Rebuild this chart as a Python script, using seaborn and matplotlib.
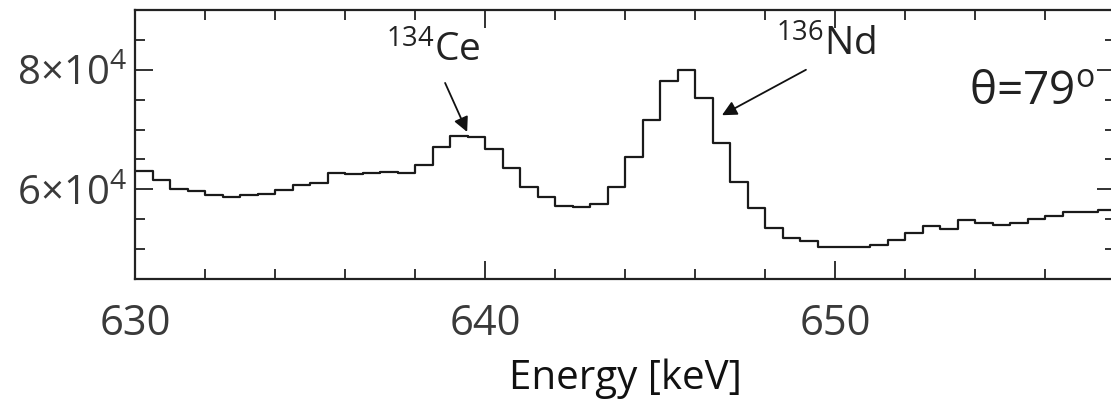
import numpy as np
import pandas as pd
import seaborn as sns
import matplotlib
matplotlib.use("Agg")
import matplotlib.pyplot as plt
from matplotlib.ticker import MultipleLocator, FuncFormatter, FixedLocator

# ---------------- data ----------------
energy_start = 630.0      # keV, left edge of first bin
bin_width = 0.5           # keV
counts = [
    63000, 61500, 60000, 59650, 59000, 58700, 59000, 59300, 59950, 60800,
    61050, 62700, 62600, 62650, 62850, 62750, 64150, 67000, 68950, 68800,
    66700, 63600, 60400, 58700, 57150, 57050, 57600, 60400, 65400, 71600,
    78150, 79900, 75250, 67800, 61300, 56850, 53600, 51900, 51300, 50400,
    50300, 50300, 50750, 51500, 52650, 53800, 53350, 54900, 54450, 54000,
    54350, 55000, 55600, 56150, 56150, 56600,
]
x_ticks = [630, 640, 650]
y_ticks = [60000, 80000]
peak_labels = [r"$\mathregular{^{134}}$Ce", r"$\mathregular{^{136}}$Nd"]
angle_label = r"θ=79$\mathregular{^{o}}$"
x_label = "Energy [keV]"

n_bins = len(counts)
energy_end = energy_start + bin_width * n_bins
centers = energy_start + bin_width * (np.arange(n_bins) + 0.5)
df = pd.DataFrame({"energy": centers, "counts": counts})

# ---------------- style ----------------
sns.set_theme(style="ticks")
plt.rcParams["font.family"] = ["Open Sans", "DejaVu Sans"]
plt.rcParams["mathtext.fontset"] = "custom"
plt.rcParams["mathtext.rm"] = "Open Sans"
plt.rcParams["mathtext.it"] = "Open Sans:italic"
plt.rcParams["mathtext.bf"] = "Open Sans:bold"
TXT = "#222222"

fig = plt.figure(figsize=(11.11, 4.01), dpi=100)
ax = fig.add_axes([135 / 1111, 122 / 401, 980 / 1111, 269 / 401])

sns.histplot(data=df, x="energy", weights="counts",
             binwidth=bin_width, binrange=(energy_start, energy_end),
             element="step", fill=False, color="#1a1a1a", linewidth=1.6, ax=ax)

ax.set_xlim(630, 658)
ax.set_ylim(45000, 90000)
ax.set_ylabel("")
ax.set_xlabel(x_label, fontsize=29, color="#111111", labelpad=10)

ax.xaxis.set_major_locator(FixedLocator(x_ticks))
ax.xaxis.set_minor_locator(MultipleLocator(2))
ax.yaxis.set_major_locator(FixedLocator(y_ticks))
ax.yaxis.set_minor_locator(MultipleLocator(5000))
ax.yaxis.set_major_formatter(FuncFormatter(
    lambda v, _: r"$\mathregular{%d{\times}10^{4}}$" % round(v / 1e4)))

ax.tick_params(which="both", direction="in", top=True, right=True,
               width=1.3, color="#222222")
ax.tick_params(which="major", length=13)
ax.tick_params(which="minor", length=7)
ax.tick_params(axis="x", which="major", labelsize=30, pad=17, labelcolor="#3a3a3a")
ax.tick_params(axis="y", which="major", labelsize=29, pad=6, labelcolor="#3a3a3a")
for s in ax.spines.values():
    s.set_linewidth(1.6)
    s.set_color("#222222")

# ---------------- annotations ----------------
arrow = dict(arrowstyle="-|>", mutation_scale=22, lw=1.3, color="#111111",
             shrinkA=0, shrinkB=0)
ax.text(0.304, 0.81, peak_labels[0], transform=ax.transAxes, fontsize=28,
        ha="center", va="baseline", color=TXT)
ax.annotate("", xy=(639.49, 69600), xytext=(638.86, 77800),
            xycoords="data", textcoords="data", arrowprops=arrow)
ax.text(0.7046, 0.83, peak_labels[1], transform=ax.transAxes, fontsize=28,
        ha="center", va="baseline", color=TXT)
ax.annotate("", xy=(646.77, 72400), xytext=(649.17, 80000),
            xycoords="data", textcoords="data", arrowprops=arrow)
ax.text(0.915, 0.695, angle_label, transform=ax.transAxes, fontsize=33,
        ha="center", va="center", color=TXT)

fig.savefig("out.png", dpi=100)
